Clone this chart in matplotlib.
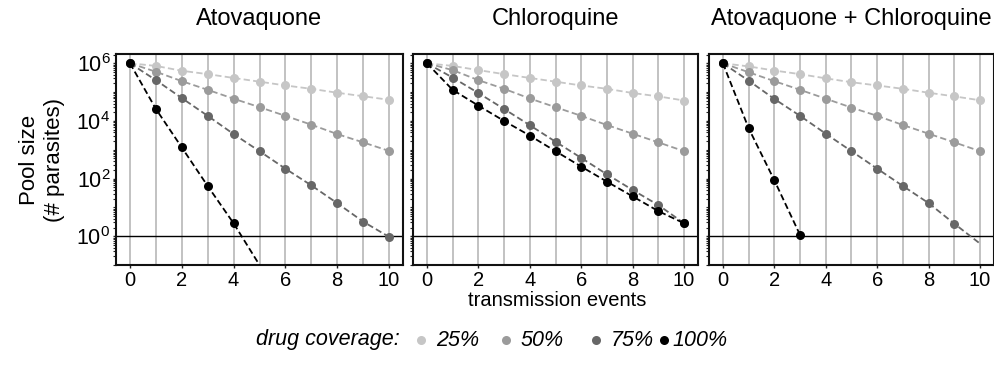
import numpy as np
import matplotlib
matplotlib.use("Agg")
import matplotlib.pyplot as plt
from matplotlib.ticker import LogLocator, FixedLocator, NullFormatter

## datos
eventos = np.arange(11)
coberturas = ["25%", "50%", "75%", "100%"]
titulos = ["Atovaquone", "Chloroquine", "Atovaquone + Chloroquine"]

atov_25 = [1e6, 8.1e5, 5.5e5, 4.2e5, 3.1e5, 2.3e5, 1.7e5, 1.3e5, 9.5e4, 7.2e4, 5.4e4]
atov_50 = [1e6, 5.1e5, 2.4e5, 1.2e5, 5.9e4, 3.0e4, 1.5e4, 7.4e3, 3.5e3, 1.8e3, 9.1e2]
atov_75 = [1e6, 2.6e5, 6.2e4, 1.5e4, 3.5e3, 8.9e2, 2.2e2, 58, 14, 3.2, 0.95]
atov_100 = [1e6, 2.6e4, 1.2e3, 55, 2.8, 0.1]

chlor_25 = [1e6, 8.1e5, 5.8e5, 4.2e5, 3.1e5, 2.3e5, 1.7e5, 1.3e5, 9.3e4, 7.1e4, 5.1e4]
chlor_50 = [1e6, 5.8e5, 2.6e5, 1.3e5, 6.0e4, 3.0e4, 1.5e4, 7.2e3, 3.6e3, 1.8e3, 8.9e2]
chlor_75 = [1e6, 3.2e5, 9.3e4, 2.6e4, 7.1e3, 1.9e3, 5.2e2, 1.4e2, 40, 12, 2.8]
chlor_100 = [1e6, 1.2e5, 3.4e4, 1.0e4, 3.1e3, 8.9e2, 2.6e2, 78, 24, 7.4, 2.8]

combo_25 = [1e6, 7.8e5, 5.6e5, 4.2e5, 3.0e5, 2.2e5, 1.7e5, 1.3e5, 9.5e4, 7.1e4, 5.2e4]
combo_50 = [1e6, 4.9e5, 2.4e5, 1.2e5, 5.9e4, 2.9e4, 1.5e4, 7.2e3, 3.6e3, 1.8e3, 8.9e2]
combo_75 = [1e6, 2.5e5, 5.8e4, 1.5e4, 3.6e3, 8.9e2, 2.2e2, 55, 14, 2.7, 0.55]
combo_100 = [1e6, 5.6e3, 87, 1.1]

paneles = [
    [atov_25, atov_50, atov_75, atov_100],
    [chlor_25, chlor_50, chlor_75, chlor_100],
    [combo_25, combo_50, combo_75, combo_100],
]

COLORES = ["#c6c6c6", "#9b9b9b", "#676767", "#000000"]

## estilo
plt.rcParams["font.family"] = ["Liberation Sans", "DejaVu Sans"]
plt.rcParams["mathtext.fontset"] = "custom"
plt.rcParams["mathtext.rm"] = "Liberation Sans"
plt.rcParams["font.size"] = 14.5

W, H = 995, 383
fig = plt.figure(figsize=(W/100, H/100), dpi=100)

lefts = [116, 413, 709]
anchos = [287, 285, 285]
top, bottom = 54, 265

for k in range(3):
    ax = fig.add_axes([lefts[k]/W, (H-bottom)/H, anchos[k]/W, (bottom-top)/H])
    ax.set_yscale("log")
    ax.set_xlim(-0.54, 10.54)
    ax.set_ylim(0.1, 2.1e6)
    for x in eventos:
        ax.axvline(x, color="#bdbdbd", lw=1.3, zorder=0)
    ax.axhline(1, color="black", lw=1.0, zorder=1)

    for j, serie in enumerate(paneles[k]):
        y = np.array(serie, dtype=float)
        x = eventos[:len(y)]
        ax.plot(x, y, color=COLORES[j], ls=(0, (3.5, 1.8)), lw=1.3, zorder=2+j)
        vis = y >= 0.9
        ax.plot(x[vis], y[vis], "o", color=COLORES[j], ms=6.5, mec="none", zorder=2+j)

    ax.xaxis.set_major_locator(FixedLocator([0, 2, 4, 6, 8, 10]))
    ax.yaxis.set_major_locator(FixedLocator([1, 1e2, 1e4, 1e6]))
    ax.yaxis.set_minor_locator(LogLocator(base=10, subs="all", numticks=30))
    ax.yaxis.set_minor_formatter(NullFormatter())
    ax.tick_params(axis="both", which="major", length=2.5, width=1.0, color="#222222")
    ax.tick_params(axis="x", which="major", pad=1.5, labelsize=14.5)
    ax.tick_params(axis="y", which="major", pad=1.5, labelsize=15.5)
    ax.tick_params(axis="y", which="minor", length=2, width=0.8, color="#222222")
    if k == 0:
        ax.set_yticklabels([r"$\mathregular{10^{0}}$", r"$\mathregular{10^{2}}$",
                            r"$\mathregular{10^{4}}$", r"$\mathregular{10^{6}}$"])
    else:
        ax.set_yticklabels([])
    for s in ax.spines.values():
        s.set_linewidth(1.5)
        s.set_color("#111111")
    fig.text((lefts[k] + anchos[k]/2)/W, 1 - 19/H, titulos[k], ha="center", va="center",
             fontsize=17)

fig.text(557/W, 1 - 301/H, "transmission events", ha="center", va="center", fontsize=14.5)
fig.text(42/W, 1 - 160/H, "Pool size\n(# parasites)", ha="center", va="center",
         rotation=90, fontsize=16, linespacing=1.2)

## leyenda
fig.text(400/W, 1 - 340/H, "drug coverage:", ha="right", va="center",
         fontsize=15.5, style="italic")
x_marcas = [421, 506, 596, 664]
x_textos = [436, 521, 611, 672]
for c, lab, xm, xt in zip(COLORES, coberturas, x_marcas, x_textos):
    fig.lines.append(plt.Line2D([xm/W], [1 - 340/H], transform=fig.transFigure,
                                ls="none", marker="o", color=c, ms=6.5, mec="none"))
    fig.text(xt/W, 1 - 340/H, lab, ha="left", va="center", fontsize=15.5, style="italic")

plt.savefig("out.png", dpi=100)
